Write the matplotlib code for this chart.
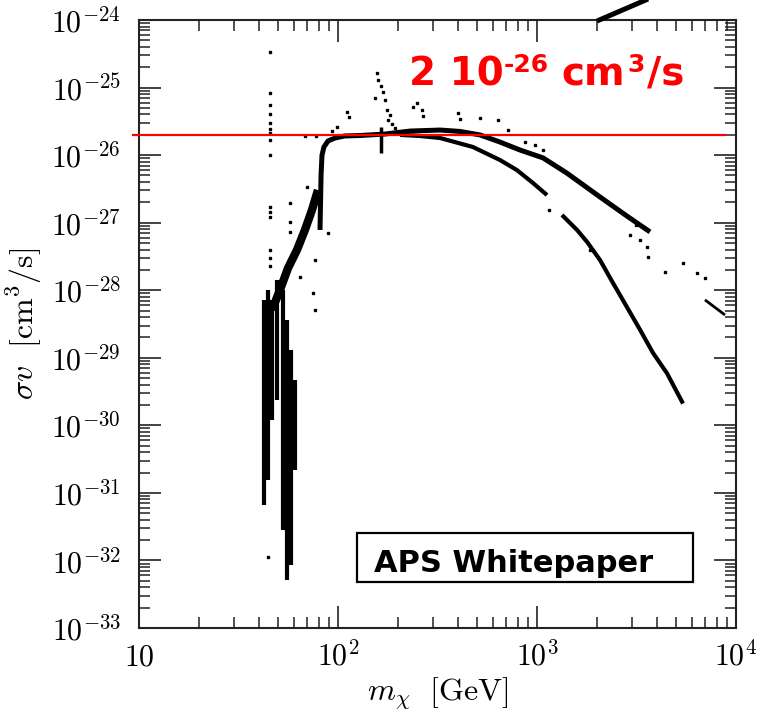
import matplotlib
matplotlib.use("Agg")
import matplotlib.pyplot as plt
from matplotlib.ticker import FixedLocator, FixedFormatter, LogLocator, NullFormatter
from matplotlib.lines import Line2D
from matplotlib.patches import Rectangle

plt.rcParams['mathtext.fontset'] = 'cm'
plt.rcParams['font.family'] = ['DejaVu Sans']

# ---------------- data ----------------
# main (upper) branch: mass [GeV], sigma v [cm^3/s]
upper_mass = [81.2, 82.2, 83.1, 85.0, 89.1, 96.6, 108, 129, 172, 230, 326, 410,
              517, 652, 821, 1072, 1415, 2073, 2834, 3697]
upper_sv = [7.8e-28, 5.1e-27, 1.0e-26, 1.32e-26, 1.62e-26, 1.79e-26, 1.92e-26,
            1.95e-26, 2.05e-26, 2.27e-26, 2.35e-26, 2.24e-26, 1.99e-26, 1.56e-26,
            1.19e-26, 9.1e-27, 5.4e-27, 2.4e-27, 1.25e-27, 7.3e-28]

# lower branch (two pieces with a gap)
lower_mass_a = [205, 258, 326, 476, 652, 793, 955, 1123]
lower_sv_a = [1.99e-26, 1.92e-26, 1.79e-26, 1.32e-26, 8.45e-27, 6.0e-27, 3.86e-27, 2.56e-27]
lower_mass_b = [1335, 1589, 1784, 2073, 2409, 2834, 3294, 3827, 4500, 5417]
lower_sv_b = [1.30e-27, 7.8e-28, 5.2e-28, 2.8e-28, 1.28e-28, 5.6e-29, 2.6e-29,
              1.18e-29, 5.9e-30, 2.1e-30]

# isolated high-mass segment
tail_mass = [6982, 8805]
tail_sv = [7.2e-29, 4.3e-29]

# rising cloud below the W threshold
rise_mass = [46.6, 51.1, 56.1, 62.2, 68.2, 74.0, 79.3]
rise_sv = [5.1e-29, 1.01e-28, 2.13e-28, 3.94e-28, 7.8e-28, 1.54e-27, 3.04e-27]

# resonance lobes (vertical columns of points)
lobe_mass = [42.5, 44.5, 46.6, 49.4, 52.9, 55.4, 58.0, 60.8]
lobe_top = [7.2e-29, 1.01e-28, 7.2e-29, 1.42e-28, 1.01e-28, 3.6e-29, 1.3e-29, 4.7e-30]
lobe_bot = [6.6e-32, 1.55e-31, 1.2e-30, 2.4e-30, 2.8e-32, 5.1e-33, 8.6e-33, 2.2e-31]

# short vertical spikes on the band
spike_mass = [165]
spike_top = [2.6e-26]
spike_bot = [1.07e-26]

# dotted column at the Z pole
z_mass = 45.5
z_sv = [3.4e-25, 8.3e-26, 5.5e-26, 4.1e-26, 3.0e-26, 2.4e-26, 2.1e-26, 1.67e-26,
        1.0e-26, 1.71e-27, 1.44e-27, 1.21e-27, 3.9e-28, 3.0e-28, 2.3e-28]

# scattered individual models
scat_mass = [157, 153, 159, 164, 168, 172, 176, 182, 178, 187, 193, 111, 114, 98.9,
             238, 249, 264, 267, 401, 410, 517, 637, 715, 871, 977, 1072, 68.2, 77.4,
             93.3, 69.8, 74.9, 57.4, 57.4, 57.4, 89.1, 76.6, 74.9, 76.6, 64.4, 2931,
             3294, 3570, 3612, 3141, 1148, 5417, 4397, 6365, 6982, 44.5, 1846]
scat_sv = [1.64e-25, 7.0e-26, 1.29e-25, 1.05e-25, 8.6e-26, 6.5e-26, 4.65e-26, 3.93e-26,
           3.31e-26, 2.89e-26, 2.52e-26, 4.35e-26, 3.66e-26, 2.61e-26, 5.15e-26, 5.9e-26,
           4.65e-26, 3.79e-26, 4.2e-26, 3.42e-26, 3.54e-26, 3.31e-26, 2.35e-26, 1.56e-26,
           1.41e-26, 1.19e-26, 1.92e-26, 1.92e-26, 2.27e-26, 3.37e-27, 2.16e-27, 1.95e-27,
           1.02e-27, 7.3e-28, 7.0e-28, 2.8e-28, 9.1e-29, 5.1e-29, 1.57e-28, 6.6e-28,
           5.5e-28, 4.4e-28, 3.1e-28, 9.2e-28, 1.54e-27, 2.5e-28, 1.86e-28, 1.8e-28,
           1.52e-28, 1.12e-32, 3.94e-28]

thermal_sv = 2e-26

x_ticks = [10, 100, 1000, 10000]
x_ticklabels = [r'$10$', r'$10^2$', r'$10^3$', r'$10^4$']
y_ticks = [1e-24, 1e-25, 1e-26, 1e-27, 1e-28, 1e-29, 1e-30, 1e-31, 1e-32, 1e-33]
y_ticklabels = [r'$10^{-24}$', r'$10^{-25}$', r'$10^{-26}$', r'$10^{-27}$', r'$10^{-28}$',
                r'$10^{-29}$', r'$10^{-30}$', r'$10^{-31}$', r'$10^{-32}$', r'$10^{-33}$']

# ---------------- figure ----------------
W, H = 761, 720
fig = plt.figure(figsize=(W / 100, H / 100), dpi=100)
ax = fig.add_axes([139 / W, 1 - 628 / H, (736 - 139) / W, (628 - 20) / H])
ax.set_xscale('log')
ax.set_yscale('log')
ax.set_xlim(10, 1e4)
ax.set_ylim(1e-33, 1e-24)

k = 'black'
ax.vlines(lobe_mass, lobe_bot, lobe_top, colors=k, linewidth=3.0)
ax.vlines(spike_mass, spike_bot, spike_top, colors=k, linewidth=2.5)
ax.plot(rise_mass, rise_sv, color=k, lw=6, solid_capstyle='butt')
ax.plot(upper_mass, upper_sv, color=k, lw=3.6, solid_capstyle='butt')
ax.plot(lower_mass_a, lower_sv_a, color=k, lw=3.0, solid_capstyle='butt')
ax.plot(lower_mass_b, lower_sv_b, color=k, lw=3.0, solid_capstyle='butt')
ax.plot(tail_mass, tail_sv, color=k, lw=2.0, solid_capstyle='butt')
ax.plot([z_mass] * len(z_sv), z_sv, ls='none', marker='s', ms=1.8, color=k)
ax.plot(scat_mass, scat_sv, ls='none', marker='s', ms=1.8, color=k)

# thermal relic line
ax.plot([9.33, 8800], [thermal_sv, thermal_sv], color='#ff0000', lw=1.6,
        clip_on=False, zorder=5)

# axes styling
for s in ax.spines.values():
    s.set_linewidth(1.5)
    s.set_color('#222222')
ax.xaxis.set_major_locator(FixedLocator(x_ticks))
ax.xaxis.set_major_formatter(FixedFormatter(x_ticklabels))
ax.yaxis.set_major_locator(FixedLocator(y_ticks))
ax.yaxis.set_major_formatter(FixedFormatter(y_ticklabels))
ax.xaxis.set_minor_locator(LogLocator(base=10, subs=range(2, 10), numticks=20))
ax.yaxis.set_minor_locator(LogLocator(base=10, subs=range(2, 10), numticks=20))
ax.xaxis.set_minor_formatter(NullFormatter())
ax.yaxis.set_minor_formatter(NullFormatter())
ax.tick_params(which='both', direction='in', top=True, right=True, color='#222222')
ax.tick_params(which='major', length=15.5, width=1.2, labelsize=21.5)
ax.tick_params(which='minor', length=8, width=1.1)
ax.tick_params(axis='y', which='major', pad=13)
ax.tick_params(axis='x', which='major', pad=27)
for lbl in ax.get_xticklabels():
    lbl.set_verticalalignment('baseline')

ax.set_xlabel(r'$m_\chi\ \ [\mathrm{GeV}]$', fontsize=23)
ax.set_ylabel(r'$\sigma v\ \ [\mathrm{cm}^3/\mathrm{s}]$', fontsize=23)
ax.xaxis.set_label_coords(0.5, -(676 - 628) / 608)
ax.yaxis.set_label_coords((44 - 139) / 597, 0.5)

# annotations in figure pixel coordinates
def fx(px):
    return px / W

def fy(py):
    return 1 - py / H

red = '#ff0000'
bold_big = dict(color=red, fontsize=28, fontweight='bold', family='DejaVu Sans',
                ha='left', va='baseline')
bold_sup = dict(color=red, fontsize=18, fontweight='bold', family='DejaVu Sans',
                ha='left', va='baseline')
fig.text(fx(409), fy(85), '2 10', **bold_big)
fig.text(fx(504), fy(72), '-26', **bold_sup)
fig.text(fx(561), fy(85), 'cm', **bold_big)
fig.text(fx(627), fy(72), '3', **bold_sup)
fig.text(fx(647), fy(85), '/s', **bold_big)

fig.add_artist(Rectangle((fx(357), fy(582)), fx(693) - fx(357), fy(533) - fy(582),
                         transform=fig.transFigure, facecolor='white',
                         edgecolor='black', lw=1.6, zorder=6))
fig.text(fx(374), fy(572), 'APS Whitepaper', color='black', fontsize=22,
         fontweight='bold', ha='left', va='baseline', zorder=7)

fig.add_artist(Line2D([fx(597), fx(662)], [fy(21), fy(-7)], transform=fig.transFigure,
                      color='black', lw=3.6, solid_capstyle='butt'))

fig.savefig('out.png', dpi=100)
